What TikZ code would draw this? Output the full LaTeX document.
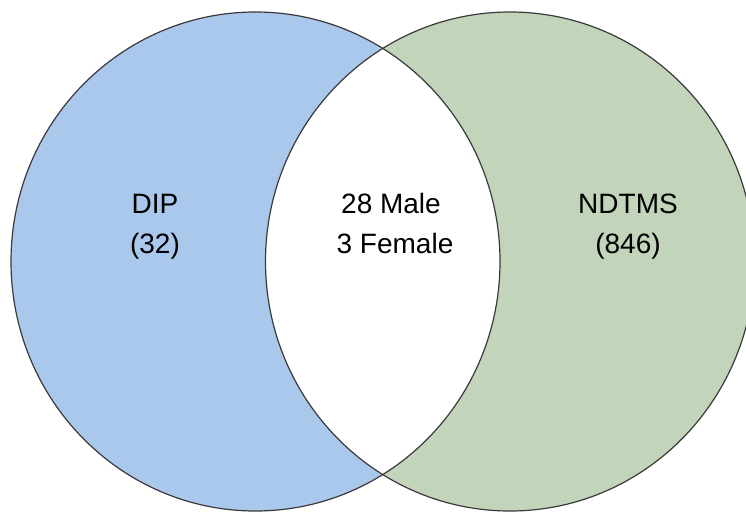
\documentclass[tikz,border=0pt]{standalone}
\usepackage{fontspec}
\setmainfont{Liberation Sans}
\definecolor{dipblue}{HTML}{A9C8EC}
\definecolor{ndgreen}{HTML}{C2D4BA}
\definecolor{rimgray}{HTML}{3A3A3A}
\begin{document}
\begin{tikzpicture}[x=1pt,y=-1pt,
    setlabel/.style={anchor=base,inner sep=0pt,font=\fontsize{28}{40}\selectfont,text=black},
    rim/.style={draw=rimgray,line width=1.2pt}]
  \useasboundingbox (0,0) rectangle (746,513);
  \clip (0,0) rectangle (746,513);
  \fill[white] (0,0) rectangle (746,513);
  % set centres
  \coordinate (cL) at (255.5,261.5);
  \coordinate (cR) at (510,261.5);
  % set areas
  \fill[dipblue] (cL) ellipse [x radius=244.5pt, y radius=249.5pt];
  \fill[ndgreen] (cR) ellipse [x radius=244.5pt, y radius=249.5pt];
  \begin{scope}
    \clip (cL) ellipse [x radius=244.5pt, y radius=249.5pt];
    \fill[white] (cR) ellipse [x radius=244.5pt, y radius=249.5pt];
  \end{scope}
  % outlines
  \draw[rim] (cL) ellipse [x radius=244.5pt, y radius=249.5pt];
  \draw[rim] (cR) ellipse [x radius=244.5pt, y radius=249.5pt];
  % labels
  \node[setlabel] (dipA) at (155,213) {DIP};
  \node[setlabel] (dipB) at (155,253) {(32)};
  \node[setlabel] (bothA) at (391,213) {28 Male};
  \node[setlabel] (bothB) at (395,253) {3 Female};
  \node[setlabel] (ndA) at (628,213) {NDTMS};
  \node[setlabel] (ndB) at (628,253) {(846)};
\end{tikzpicture}
\end{document}
